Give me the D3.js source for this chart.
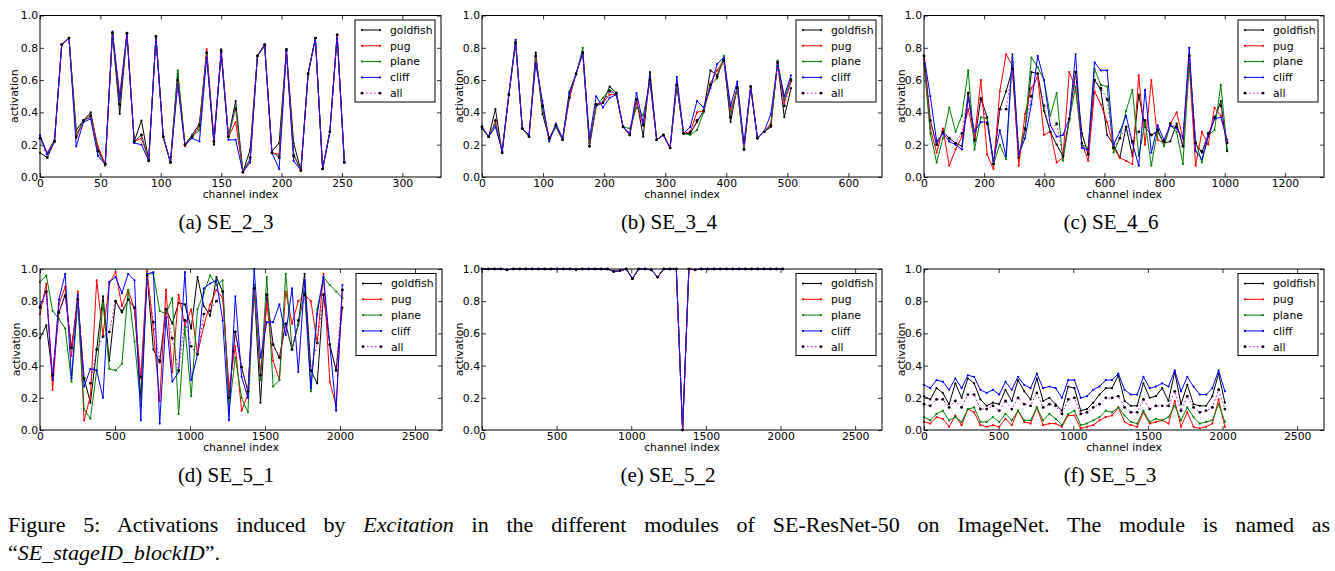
<!DOCTYPE html>
<html>
<head>
<meta charset="utf-8">
<script src="https://cdnjs.cloudflare.com/ajax/libs/d3/7.8.5/d3.min.js"></script>
<style>
  body { margin: 0; background: #fff; }
  .tick text { font-family: "DejaVu Sans", sans-serif; font-size: 10.8px; fill: #000; }
  .tick line { stroke: #000; stroke-width: 0.8; }
  .axis-text { font-family: "DejaVu Sans", sans-serif; font-size: 10.8px; fill: #000; }
  .caption { font-family: "Liberation Serif", "Times New Roman", serif; fill: #000; }
</style>
</head>
<body>
<div id="figure"></div>
<script>
// series shown in every module
var seriesNames = ["goldfish", "pug", "plane", "cliff", "all"];
var seriesColors = ["#000000", "#ff0000", "#008000", "#0000ff", "#bf00bf"];

// sampled channel indices
var channelsA = d3.range(0, 253, 6);
var channelsB = d3.range(0, 507, 11);
var channelsC = d3.range(0, 1009, 21);
var channels5 = d3.range(0, 2017, 42);

// x tick values
var ticksA = [0, 50, 100, 150, 200, 250, 300];
var ticksB = [0, 100, 200, 300, 400, 500, 600];
var ticksC = [0, 200, 400, 600, 800, 1000, 1200];
var ticks5 = [0, 500, 1000, 1500, 2000, 2500];
var yTicks = [0, 0.2, 0.4, 0.6, 0.8, 1.0];

// (a) SE_2_3
var a_goldfish = [0.15,0.12,0.22,0.82,0.86,0.29,0.35,0.40,0.17,0.08,0.89,0.39,0.89,0.22,0.35,0.10,0.87,0.25,0.09,0.64,0.20,0.26,0.33,0.77,0.20,0.79,0.25,0.47,0.03,0.17,0.75,0.82,0.16,0.21,0.79,0.21,0.04,0.64,0.86,0.05,0.28,0.88,0.09];
var a_pug = [0.25,0.15,0.23,0.82,0.86,0.24,0.35,0.38,0.19,0.08,0.89,0.51,0.89,0.22,0.24,0.11,0.87,0.25,0.09,0.60,0.19,0.25,0.31,0.79,0.24,0.77,0.25,0.34,0.03,0.11,0.75,0.82,0.15,0.14,0.78,0.14,0.04,0.64,0.86,0.05,0.28,0.88,0.09];
var a_plane = [0.25,0.14,0.23,0.82,0.86,0.26,0.35,0.37,0.16,0.07,0.89,0.45,0.88,0.22,0.26,0.11,0.87,0.25,0.09,0.66,0.20,0.25,0.29,0.77,0.22,0.77,0.25,0.43,0.03,0.11,0.75,0.82,0.15,0.13,0.78,0.14,0.04,0.64,0.86,0.05,0.28,0.88,0.09];
var a_cliff = [0.26,0.14,0.22,0.82,0.86,0.19,0.34,0.36,0.13,0.08,0.90,0.48,0.89,0.21,0.20,0.10,0.87,0.25,0.09,0.57,0.20,0.24,0.22,0.74,0.22,0.77,0.23,0.23,0.03,0.09,0.75,0.81,0.15,0.05,0.78,0.10,0.04,0.64,0.86,0.05,0.28,0.88,0.09];
var a_all = [0.24,0.12,0.22,0.82,0.86,0.25,0.35,0.38,0.16,0.08,0.89,0.45,0.89,0.22,0.26,0.10,0.87,0.25,0.09,0.60,0.20,0.25,0.32,0.77,0.22,0.78,0.25,0.42,0.03,0.12,0.75,0.82,0.15,0.12,0.79,0.13,0.04,0.64,0.86,0.05,0.28,0.88,0.09];

// (b) SE_3_4
var b_goldfish = [0.31,0.25,0.42,0.15,0.51,0.84,0.30,0.25,0.77,0.39,0.24,0.32,0.23,0.49,0.64,0.77,0.19,0.44,0.46,0.56,0.52,0.31,0.26,0.48,0.25,0.65,0.23,0.26,0.18,0.57,0.27,0.27,0.34,0.41,0.66,0.63,0.73,0.34,0.56,0.17,0.56,0.24,0.28,0.31,0.71,0.37,0.55];
var b_pug = [0.30,0.25,0.34,0.16,0.51,0.83,0.30,0.25,0.74,0.44,0.24,0.31,0.23,0.49,0.64,0.77,0.21,0.45,0.46,0.51,0.51,0.31,0.27,0.46,0.32,0.60,0.23,0.26,0.18,0.57,0.27,0.28,0.40,0.41,0.58,0.66,0.72,0.41,0.55,0.18,0.56,0.24,0.28,0.33,0.70,0.46,0.59];
var b_plane = [0.30,0.25,0.33,0.16,0.51,0.83,0.30,0.25,0.74,0.43,0.23,0.31,0.23,0.53,0.63,0.80,0.21,0.44,0.49,0.54,0.51,0.31,0.30,0.43,0.38,0.59,0.23,0.26,0.18,0.57,0.27,0.26,0.29,0.40,0.57,0.61,0.75,0.38,0.55,0.18,0.56,0.24,0.28,0.32,0.72,0.48,0.61];
var b_cliff = [0.31,0.25,0.31,0.16,0.51,0.85,0.30,0.26,0.70,0.47,0.22,0.33,0.24,0.52,0.64,0.77,0.24,0.50,0.43,0.49,0.51,0.31,0.27,0.52,0.33,0.62,0.23,0.26,0.18,0.62,0.27,0.31,0.47,0.43,0.55,0.70,0.74,0.44,0.59,0.21,0.56,0.24,0.28,0.39,0.70,0.50,0.63];
var b_all = [0.31,0.25,0.35,0.15,0.51,0.83,0.30,0.25,0.75,0.44,0.24,0.32,0.23,0.49,0.64,0.77,0.19,0.45,0.46,0.53,0.52,0.31,0.26,0.48,0.32,0.60,0.23,0.26,0.18,0.57,0.27,0.28,0.35,0.41,0.57,0.62,0.72,0.37,0.55,0.17,0.56,0.24,0.28,0.32,0.71,0.44,0.60];

// (c) SE_4_6
var c_goldfish = [0.75,0.35,0.20,0.28,0.24,0.21,0.19,0.52,0.22,0.49,0.37,0.08,0.42,0.53,0.67,0.12,0.29,0.65,0.64,0.41,0.28,0.20,0.13,0.36,0.65,0.27,0.14,0.60,0.54,0.26,0.20,0.12,0.31,0.13,0.51,0.31,0.26,0.28,0.21,0.22,0.33,0.19,0.75,0.21,0.15,0.26,0.36,0.47,0.16];
var c_pug = [0.73,0.30,0.15,0.30,0.07,0.17,0.25,0.42,0.24,0.60,0.14,0.05,0.53,0.76,0.69,0.07,0.39,0.55,0.62,0.26,0.28,0.09,0.12,0.65,0.55,0.21,0.10,0.53,0.45,0.34,0.18,0.12,0.10,0.08,0.63,0.20,0.60,0.23,0.21,0.33,0.40,0.24,0.70,0.07,0.28,0.20,0.43,0.38,0.22];
var c_plane = [0.70,0.27,0.09,0.24,0.43,0.28,0.38,0.66,0.17,0.37,0.36,0.08,0.20,0.11,0.74,0.14,0.30,0.74,0.68,0.60,0.38,0.52,0.10,0.35,0.56,0.20,0.18,0.67,0.57,0.56,0.15,0.24,0.41,0.54,0.13,0.34,0.07,0.30,0.19,0.32,0.28,0.08,0.71,0.22,0.09,0.26,0.29,0.57,0.17];
var c_cliff = [0.75,0.50,0.22,0.27,0.22,0.20,0.17,0.49,0.28,0.34,0.34,0.10,0.29,0.13,0.76,0.14,0.24,0.45,0.75,0.60,0.32,0.25,0.26,0.36,0.76,0.18,0.17,0.71,0.66,0.66,0.20,0.28,0.38,0.21,0.07,0.54,0.15,0.32,0.23,0.32,0.30,0.24,0.80,0.16,0.11,0.25,0.36,0.37,0.23];
var c_all = [0.75,0.35,0.20,0.28,0.24,0.21,0.27,0.52,0.23,0.48,0.33,0.08,0.42,0.42,0.67,0.12,0.30,0.50,0.64,0.44,0.28,0.33,0.13,0.36,0.65,0.21,0.14,0.60,0.55,0.48,0.18,0.24,0.31,0.22,0.28,0.35,0.26,0.29,0.22,0.33,0.31,0.19,0.75,0.21,0.16,0.27,0.37,0.44,0.21];

// (d) SE_5_1
var d_goldfish = [0.57,0.65,0.34,0.73,0.84,0.51,0.81,0.32,0.17,0.50,0.83,0.43,0.80,0.73,0.81,0.76,0.20,0.96,0.50,0.42,0.75,0.66,0.79,0.78,0.63,0.95,0.77,0.71,0.95,0.86,0.20,0.61,0.39,0.24,0.88,0.17,0.84,0.53,0.45,0.66,0.50,0.66,0.97,0.37,0.29,0.84,0.53,0.37,0.76];
var d_pug = [0.72,0.91,0.25,0.78,0.89,0.46,0.86,0.06,0.21,0.93,0.59,0.91,0.98,0.77,0.87,0.75,0.32,0.99,0.62,0.18,0.87,0.36,0.84,0.65,0.75,0.47,0.65,0.78,0.87,0.82,0.26,0.52,0.12,0.22,0.90,0.35,0.79,0.43,0.31,0.86,0.66,0.80,0.84,0.80,0.54,0.97,0.30,0.15,0.87];
var d_plane = [0.92,0.96,0.74,0.69,0.63,0.30,0.79,0.13,0.07,0.37,0.79,0.38,0.37,0.41,0.87,0.55,0.15,0.97,0.97,0.74,0.72,0.82,0.10,0.64,0.21,0.75,0.85,0.96,0.90,0.93,0.12,0.45,0.20,0.11,0.90,0.31,0.95,0.27,0.31,0.97,0.51,0.65,0.86,0.24,0.75,0.95,0.90,0.86,0.82];
var d_cliff = [0.77,0.86,0.31,0.81,0.97,0.32,0.84,0.27,0.38,0.37,0.20,0.92,0.95,0.85,0.97,0.93,0.06,0.97,0.98,0.04,0.70,0.30,0.36,0.98,0.31,0.47,0.88,0.91,0.93,0.68,0.06,0.83,0.33,0.20,1.00,0.45,0.67,0.67,0.78,0.59,0.88,0.36,0.93,0.26,0.72,0.95,0.53,0.12,0.90];
var d_all = [0.76,0.86,0.34,0.73,0.83,0.51,0.81,0.32,0.29,0.50,0.58,0.61,0.80,0.74,0.81,0.76,0.33,0.96,0.67,0.43,0.75,0.57,0.37,0.68,0.52,0.47,0.72,0.74,0.80,0.86,0.20,0.61,0.39,0.24,0.88,0.34,0.84,0.53,0.45,0.66,0.50,0.68,0.84,0.37,0.54,0.84,0.53,0.37,0.87];

// (e) SE_5_2
var e_goldfish = [1.00,1.00,1.00,1.00,0.995,1.00,1.00,1.00,1.00,1.00,1.00,1.00,1.00,1.00,1.00,0.997,1.00,1.00,1.00,1.00,1.00,0.985,0.99,1.00,0.94,1.00,1.00,0.995,0.95,1.00,1.00,1.00,0.00,1.00,0.995,1.00,1.00,1.00,1.00,1.00,1.00,1.00,1.00,1.00,1.00,1.00,1.00,1.00,1.00];
var e_pug = [1.00,1.00,1.00,1.00,0.995,1.00,1.00,1.00,1.00,1.00,1.00,1.00,1.00,1.00,1.00,0.997,1.00,1.00,1.00,1.00,1.00,0.985,0.99,1.00,0.94,1.00,1.00,0.995,0.95,1.00,1.00,1.00,0.00,1.00,0.995,1.00,1.00,1.00,1.00,1.00,1.00,1.00,1.00,1.00,1.00,1.00,1.00,1.00,1.00];
var e_plane = [1.00,1.00,1.00,1.00,0.995,1.00,1.00,1.00,1.00,1.00,1.00,1.00,1.00,1.00,1.00,0.997,1.00,1.00,1.00,1.00,1.00,0.985,0.99,1.00,0.94,1.00,1.00,0.995,0.95,1.00,1.00,1.00,0.00,1.00,0.995,1.00,1.00,1.00,1.00,1.00,1.00,1.00,1.00,1.00,1.00,1.00,1.00,1.00,1.00];
var e_cliff = [1.00,1.00,1.00,1.00,0.995,1.00,1.00,1.00,1.00,1.00,1.00,1.00,1.00,1.00,1.00,0.997,1.00,1.00,1.00,1.00,1.00,0.985,0.99,1.00,0.94,1.00,1.00,0.995,0.95,1.00,1.00,1.00,0.00,1.00,0.995,1.00,1.00,1.00,1.00,1.00,1.00,1.00,1.00,1.00,1.00,1.00,1.00,1.00,1.00];
var e_all = [1.00,1.00,1.00,1.00,0.995,1.00,1.00,1.00,1.00,1.00,1.00,1.00,1.00,1.00,1.00,0.997,1.00,1.00,1.00,1.00,1.00,0.985,0.99,1.00,0.94,1.00,1.00,0.995,0.95,1.00,1.00,1.00,0.00,1.00,0.995,1.00,1.00,1.00,1.00,1.00,1.00,1.00,1.00,1.00,1.00,1.00,1.00,1.00,1.00];

// (f) SE_5_3
var f_goldfish = [0.21,0.19,0.26,0.23,0.16,0.29,0.20,0.32,0.29,0.19,0.15,0.17,0.16,0.25,0.18,0.31,0.24,0.19,0.32,0.18,0.20,0.16,0.12,0.27,0.26,0.12,0.13,0.17,0.22,0.26,0.26,0.34,0.18,0.15,0.15,0.29,0.20,0.21,0.26,0.18,0.36,0.16,0.28,0.16,0.15,0.15,0.21,0.35,0.17];
var f_pug = [0.05,0.04,0.08,0.07,0.02,0.09,0.03,0.13,0.11,0.03,0.02,0.03,0.02,0.07,0.03,0.12,0.05,0.04,0.14,0.03,0.04,0.04,0.02,0.09,0.09,0.01,0.02,0.03,0.06,0.08,0.09,0.14,0.05,0.03,0.02,0.11,0.04,0.05,0.06,0.04,0.18,0.02,0.11,0.02,0.01,0.02,0.04,0.19,0.02];
var f_plane = [0.08,0.06,0.10,0.12,0.06,0.08,0.05,0.13,0.14,0.05,0.05,0.08,0.05,0.10,0.06,0.12,0.06,0.06,0.14,0.06,0.10,0.07,0.03,0.10,0.12,0.03,0.04,0.06,0.08,0.12,0.11,0.14,0.09,0.05,0.04,0.12,0.05,0.07,0.06,0.08,0.15,0.06,0.14,0.08,0.04,0.05,0.06,0.16,0.05];
var f_cliff = [0.28,0.26,0.31,0.30,0.25,0.32,0.26,0.34,0.33,0.25,0.23,0.25,0.22,0.30,0.25,0.33,0.28,0.26,0.35,0.26,0.27,0.26,0.20,0.31,0.31,0.20,0.21,0.25,0.27,0.31,0.31,0.35,0.25,0.22,0.22,0.33,0.26,0.27,0.29,0.27,0.37,0.24,0.33,0.27,0.22,0.22,0.26,0.37,0.24];
var f_all = [0.16,0.15,0.19,0.19,0.14,0.18,0.14,0.22,0.22,0.13,0.13,0.15,0.12,0.18,0.13,0.20,0.16,0.15,0.23,0.14,0.16,0.15,0.10,0.19,0.20,0.10,0.11,0.14,0.16,0.20,0.20,0.21,0.14,0.11,0.11,0.19,0.13,0.15,0.15,0.15,0.24,0.12,0.21,0.14,0.11,0.12,0.14,0.25,0.13];

var svgWidth = 1335;
var svgHeight = 571;

var svg = d3.select("#figure")
  .append("svg")
  .attr("width", svgWidth)
  .attr("height", svgHeight)
  .style("display", "block");

svg.append("rect")
  .attr("width", svgWidth)
  .attr("height", svgHeight)
  .attr("fill", "#fff");

// one entry per module (plot box in page pixels)
var panels = [
  { caption: "(a) SE_2_3", channels: channelsA, xMax: 332, xTicks: ticksA,
    series: [a_goldfish, a_pug, a_plane, a_cliff, a_all],
    left: 40, top: 15.5, right: 441, bottom: 177, ylabX: 18, capX: 226, capY: 229 },
  { caption: "(b) SE_3_4", channels: channelsB, xMax: 655, xTicks: ticksB,
    series: [b_goldfish, b_pug, b_plane, b_cliff, b_all],
    left: 482, top: 15.5, right: 882, bottom: 177, ylabX: 463, capX: 669, capY: 229 },
  { caption: "(c) SE_4_6", channels: channelsC, xMax: 1330, xTicks: ticksC,
    series: [c_goldfish, c_pug, c_plane, c_cliff, c_all],
    left: 924, top: 15.5, right: 1324, bottom: 177, ylabX: 905, capX: 1111, capY: 229 },
  { caption: "(d) SE_5_1", channels: channels5, xMax: 2680, xTicks: ticks5,
    series: [d_goldfish, d_pug, d_plane, d_cliff, d_all],
    left: 40, top: 269, right: 442, bottom: 430, ylabX: 20, capX: 226, capY: 482 },
  { caption: "(e) SE_5_2", channels: channels5, xMax: 2680, xTicks: ticks5,
    series: [e_goldfish, e_pug, e_plane, e_cliff, e_all],
    left: 482, top: 269, right: 882, bottom: 430, ylabX: 463, capX: 668, capY: 482 },
  { caption: "(f) SE_5_3", channels: channels5, xMax: 2680, xTicks: ticks5,
    series: [f_goldfish, f_pug, f_plane, f_cliff, f_all],
    left: 924, top: 269, right: 1324, bottom: 430, ylabX: 905, capX: 1110, capY: 482 }
];

function drawPanel(p) {
  var width = p.right - p.left;
  var height = p.bottom - p.top;

  var g = svg.append("g")
    .attr("transform", `translate(${p.left}, ${p.top})`);

  var xScale = d3.scaleLinear().domain([0, p.xMax]).range([0, width]);
  var yScale = d3.scaleLinear().domain([0, 1]).range([height, 0]);

  // ticks point inward on all four sides, like old matplotlib
  g.append("g")
    .attr("transform", `translate(0, ${height})`)
    .call(d3.axisBottom(xScale).tickValues(p.xTicks).tickSizeInner(-4).tickSizeOuter(0)
      .tickPadding(2).tickFormat(d3.format("d")))
    .call(a => a.select(".domain").remove());

  g.append("g")
    .call(d3.axisTop(xScale).tickValues(p.xTicks).tickSizeInner(-4).tickSizeOuter(0).tickFormat(""))
    .call(a => a.select(".domain").remove());

  g.append("g")
    .call(d3.axisLeft(yScale).tickValues(yTicks).tickSizeInner(-4).tickSizeOuter(0)
      .tickPadding(2).tickFormat(d3.format(".1f")))
    .call(a => a.select(".domain").remove());

  g.append("g")
    .attr("transform", `translate(${width}, 0)`)
    .call(d3.axisRight(yScale).tickValues(yTicks).tickSizeInner(-4).tickSizeOuter(0).tickFormat(""))
    .call(a => a.select(".domain").remove());

  // lines + point markers
  p.series.forEach(function(values, s) {
    var line = d3.line()
      .x((d, i) => xScale(p.channels[i]))
      .y(d => yScale(d));

    g.append("path")
      .datum(values)
      .attr("fill", "none")
      .attr("stroke", seriesColors[s])
      .attr("stroke-width", 1)
      .attr("stroke-dasharray", seriesNames[s] === "all" ? "1.5,2.5" : null)
      .attr("d", line);

    g.selectAll(null)
      .data(values)
      .enter()
      .append("circle")
      .attr("cx", (d, i) => xScale(p.channels[i]))
      .attr("cy", d => yScale(d))
      .attr("r", seriesNames[s] === "all" ? 1.4 : 1.1)
      .attr("fill", seriesNames[s] === "all" ? "#000" : seriesColors[s]);
  });

  // frame
  g.append("rect")
    .attr("width", width)
    .attr("height", height)
    .attr("fill", "none")
    .attr("stroke", "#000")
    .attr("stroke-width", 1);

  // axis labels
  g.append("text")
    .attr("class", "axis-text")
    .attr("x", width / 2)
    .attr("y", height + 20.5)
    .attr("text-anchor", "middle")
    .text("channel index");

  svg.append("text")
    .attr("class", "axis-text")
    .attr("transform", `translate(${p.ylabX}, ${(p.top + p.bottom) / 2}) rotate(-90)`)
    .attr("text-anchor", "middle")
    .text("activation");

  // legend
  var legend = g.append("g")
    .attr("transform", `translate(${width - 86}, 4.5)`);

  legend.append("rect")
    .attr("width", 80)
    .attr("height", 82)
    .attr("fill", "#fff")
    .attr("stroke", "#000")
    .attr("stroke-width", 1);

  seriesNames.forEach(function(name, s) {
    var rowY = 10 + s * 15.8;
    legend.append("line")
      .attr("x1", 7).attr("x2", 25)
      .attr("y1", rowY).attr("y2", rowY)
      .attr("stroke", seriesColors[s])
      .attr("stroke-width", 1)
      .attr("stroke-dasharray", name === "all" ? "1.5,2.5" : null);
    [7, 25].forEach(function(mx) {
      legend.append("circle")
        .attr("cx", mx).attr("cy", rowY)
        .attr("r", name === "all" ? 1.4 : 1.1)
        .attr("fill", name === "all" ? "#000" : seriesColors[s]);
    });
    legend.append("text")
      .attr("class", "axis-text")
      .attr("x", 35)
      .attr("y", rowY + 3.8)
      .text(name);
  });

  // sub caption
  svg.append("text")
    .attr("class", "caption")
    .attr("x", p.capX)
    .attr("y", p.capY)
    .attr("text-anchor", "middle")
    .style("font-size", "21px")
    .text(p.caption);
}

panels.forEach(drawPanel);

// figure caption, first line justified to the text width
var line1 = svg.append("text")
  .attr("class", "caption")
  .attr("x", 8)
  .attr("y", 532)
  .style("font-size", "22px");
line1.append("tspan").text("Figure 5: Activations induced by ");
line1.append("tspan").style("font-style", "italic").text("Excitation");
line1.append("tspan").text(" in the different modules of SE-ResNet-50 on ImageNet. The module is named as");

var natural = line1.node().getComputedTextLength();
var spaces = line1.text().split(" ").length - 1;
line1.attr("word-spacing", (1330 - 8 - natural) / spaces);

var line2 = svg.append("text")
  .attr("class", "caption")
  .attr("x", 8)
  .attr("y", 560)
  .style("font-size", "22px");
line2.append("tspan").text("\u201C");
line2.append("tspan").style("font-style", "italic").text("SE_stageID_blockID");
line2.append("tspan").text("\u201D.");
</script>
</body>
</html>
